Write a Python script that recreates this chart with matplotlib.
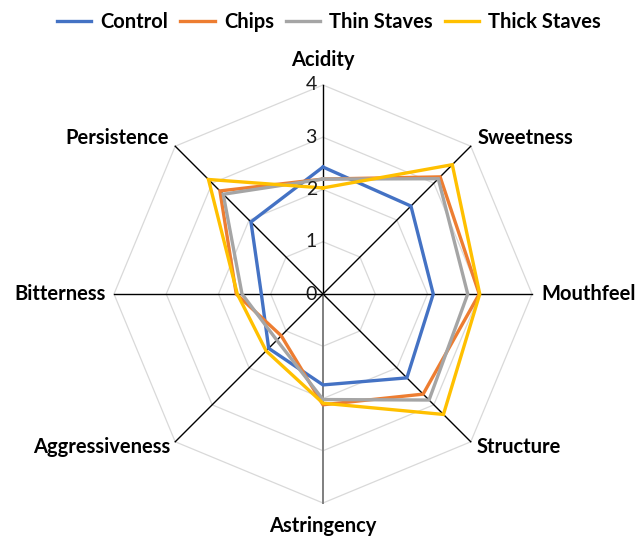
import numpy as np
import matplotlib
matplotlib.use('Agg')
import matplotlib.pyplot as plt

# categories, clockwise from the top
categories = ['Acidity', 'Sweetness', 'Mouthfeel', 'Structure',
              'Astringency', 'Aggressiveness', 'Bitterness', 'Persistence']

control = [2.43, 2.38, 2.11, 2.27, 1.74, 1.47, 1.18, 1.95]
chips = [2.20, 3.17, 2.99, 2.71, 2.12, 1.13, 1.66, 2.79]
thin_staves = [2.20, 3.12, 2.77, 2.87, 2.02, 1.25, 1.55, 2.70]
thick_staves = [2.03, 3.50, 3.00, 3.26, 2.09, 1.54, 1.64, 3.10]

series_names = ['Control', 'Chips', 'Thin Staves', 'Thick Staves']
series_colors = ['#4472C4', '#ED7D31', '#A5A5A5', '#FFC000']
ticks = [0, 1, 2, 3, 4]

plt.rcParams['font.family'] = ['Lato', 'DejaVu Sans']

W, H = 639, 536
fig = plt.figure(figsize=(W / 100, H / 100), dpi=100)
ax = fig.add_axes([0, 0, 1, 1])

# pixel geometry of the plot centre and scale (px per unit)
cx, cy, scale = 323, 294, 52.25
ax.set_xlim(-cx / scale, (W - cx) / scale)
ax.set_ylim(-(H - cy) / scale, cy / scale)
ax.set_aspect('equal')
ax.axis('off')

n = len(categories)
theta = np.arange(n) * 2 * np.pi / n
sx, sy = np.sin(theta), np.cos(theta)
rmax = ticks[-1]

# grid rings
for t in ticks[1:]:
    ax.plot(np.append(sx, sx[0]) * t, np.append(sy, sy[0]) * t,
            color='#d9d9d9', lw=0.9, zorder=1)

# spokes
for i in range(n):
    col, lw = ('#7f7f7f', 1.4) if i == 4 else ('black', 1.0)
    ax.plot([0, sx[i] * rmax], [0, sy[i] * rmax], color=col, lw=lw, zorder=2)

# series
data = [control, chips, thin_staves, thick_staves]
for name, vals, c in zip(series_names, data, series_colors):
    v = np.array(vals + vals[:1])
    ax.plot(np.append(sx, sx[0]) * v, np.append(sy, sy[0]) * v,
            color=c, lw=2.4, label=name, zorder=3, solid_joinstyle='miter')

# tick labels
for t in ticks:
    ax.annotate(str(t), (0, t), xytext=(-6, 0), textcoords='offset pixels',
                ha='right', va='center', fontsize=14, color='#1a1a1a')

# category labels
offsets = [(0, 25, 'center'), (7, 8, 'left'), (9, 0, 'left'), (6, -5, 'left'),
           (0, -23, 'center'), (-5, -5, 'right'), (-8, 0, 'right'), (-6, 8, 'right')]
for i, lab in enumerate(categories):
    dx, dy, ha = offsets[i]
    ax.annotate(lab, (sx[i] * rmax, sy[i] * rmax), xytext=(dx, dy),
                textcoords='offset pixels', ha=ha, va='center',
                fontsize=14.5, fontweight='bold')

fig.legend(loc='center', bbox_to_anchor=(0.515, 1 - 22 / H), ncol=4, frameon=False,
           prop={'weight': 'bold', 'size': 14.5}, handlelength=1.7,
           columnspacing=0.6, handletextpad=0.45, borderpad=0)

fig.savefig('out.png', dpi=100)
